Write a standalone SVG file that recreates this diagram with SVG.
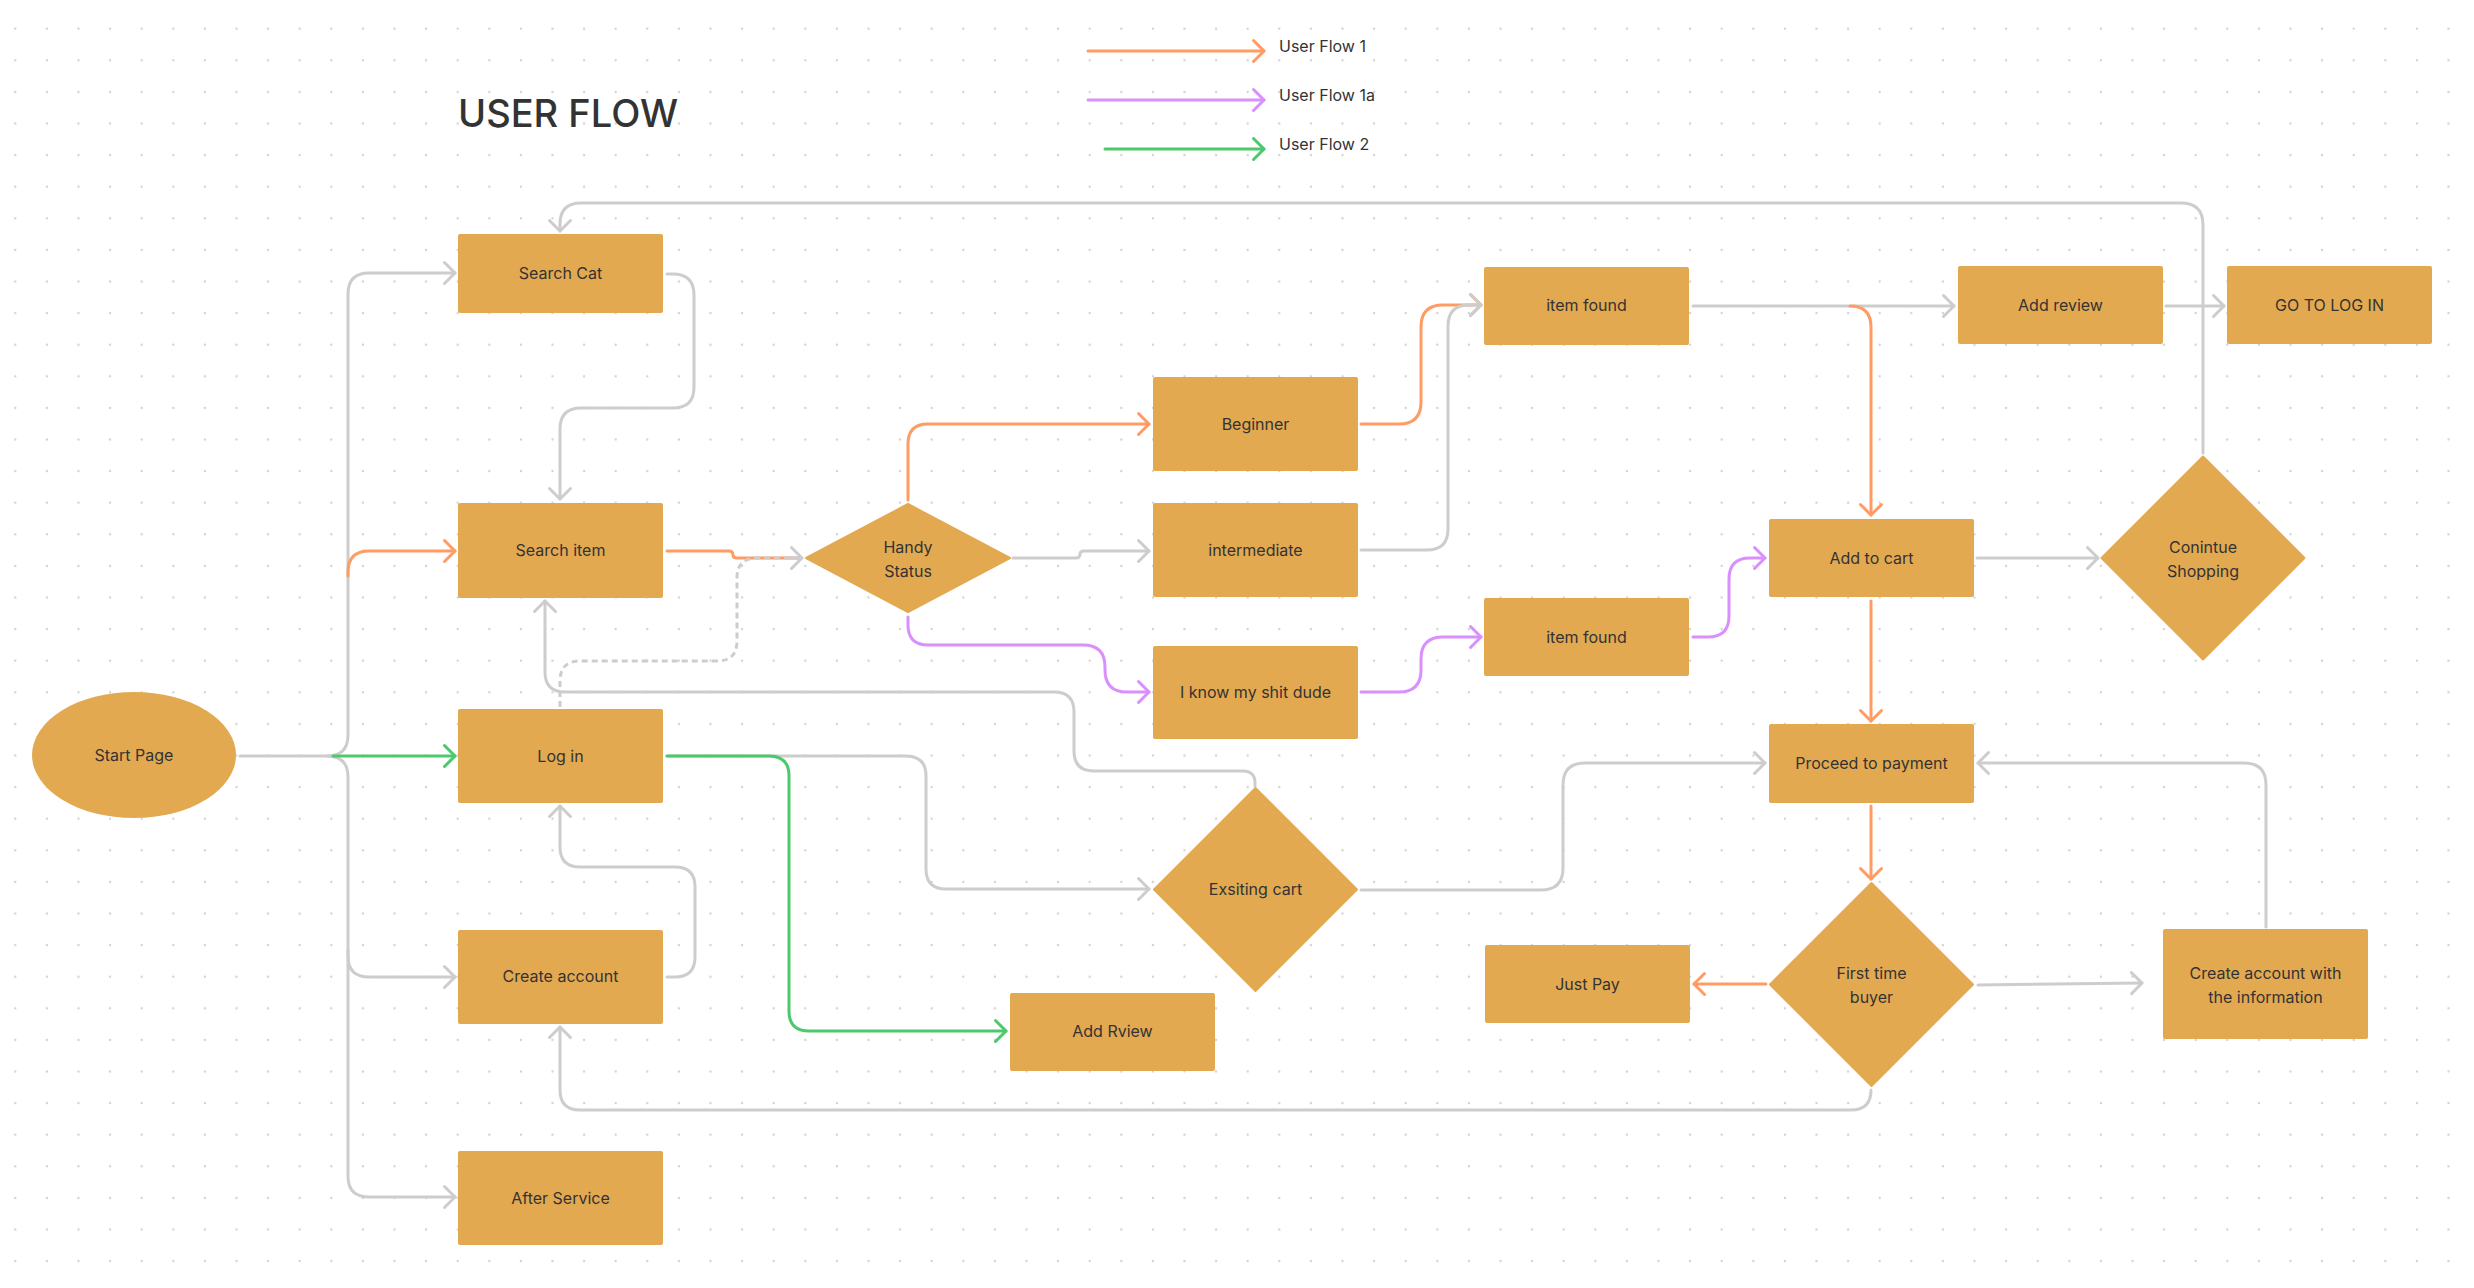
<svg xmlns="http://www.w3.org/2000/svg" width="2474" height="1288" viewBox="0 0 2474 1288">
<style>
.n{fill:#E3A951}
.t{font-family:Inter,"Liberation Sans",sans-serif;font-size:16px;fill:#333333;text-anchor:middle}
.c{fill:none;stroke-width:3;stroke-linecap:round;stroke-linejoin:round}
.g{stroke:#CDCDCD}
.o{stroke:#FF9B63}
.p{stroke:#DA8FFF}
.gr{stroke:#4CC96D}
.d{stroke-dasharray:6 4;stroke-linecap:butt}
.dm{stroke:#E3A951;stroke-width:2;stroke-linejoin:round}
</style>
<defs>
<pattern id="dots" x="-0.5" y="12.9" width="31.6" height="31.6" patternUnits="userSpaceOnUse"><circle cx="15.8" cy="15.8" r="1.2" fill="#D2D2D2"/></pattern>
<marker id="ag" markerUnits="userSpaceOnUse" markerWidth="30" markerHeight="30" viewBox="-15 -15 30 30" refX="0" refY="0" orient="auto"><path d="M-10.5,-10.5 L0,0 L-10.5,10.5" fill="none" stroke="#CDCDCD" stroke-width="3" stroke-linecap="round" stroke-linejoin="round"/></marker>
<marker id="ao" markerUnits="userSpaceOnUse" markerWidth="30" markerHeight="30" viewBox="-15 -15 30 30" refX="0" refY="0" orient="auto"><path d="M-10.5,-10.5 L0,0 L-10.5,10.5" fill="none" stroke="#FF9B63" stroke-width="3" stroke-linecap="round" stroke-linejoin="round"/></marker>
<marker id="ap" markerUnits="userSpaceOnUse" markerWidth="30" markerHeight="30" viewBox="-15 -15 30 30" refX="0" refY="0" orient="auto"><path d="M-10.5,-10.5 L0,0 L-10.5,10.5" fill="none" stroke="#DA8FFF" stroke-width="3" stroke-linecap="round" stroke-linejoin="round"/></marker>
<marker id="agr" markerUnits="userSpaceOnUse" markerWidth="30" markerHeight="30" viewBox="-15 -15 30 30" refX="0" refY="0" orient="auto"><path d="M-10.5,-10.5 L0,0 L-10.5,10.5" fill="none" stroke="#4CC96D" stroke-width="3" stroke-linecap="round" stroke-linejoin="round"/></marker>
</defs>
<rect width="2474" height="1288" fill="#FFFFFF"/>
<rect width="2474" height="1288" fill="url(#dots)"/>

<g id="title">
<text x="458" y="127" font-family="Inter,'Liberation Sans',sans-serif" font-size="38" font-weight="500" fill="#333333">USER FLOW</text>
</g>

<g id="legend">
<path class="c o" d="M1088,51 L1264,51" marker-end="url(#ao)"/>
<path class="c p" d="M1088,100 L1264,100" marker-end="url(#ap)"/>
<path class="c gr" d="M1105,149 L1264,149" marker-end="url(#agr)"/>
<text x="1279" y="51.5" font-family="Inter,'Liberation Sans',sans-serif" font-size="16" fill="#333333">User Flow 1</text>
<text x="1279" y="100.5" font-family="Inter,'Liberation Sans',sans-serif" font-size="16" fill="#333333">User Flow 1a</text>
<text x="1279" y="150" font-family="Inter,'Liberation Sans',sans-serif" font-size="16" fill="#333333">User Flow 2</text>
</g>

<g id="connectors">
<path class="c g" d="M240,756 L327,756 Q348,756 348,735 L348,294 Q348,273 369,273 L455,273" marker-end="url(#ag)"/>
<path class="c g" d="M327,756 Q348,756 348,777 L348,956 Q348,977 369,977 L455,977" marker-end="url(#ag)"/>
<path class="c g" d="M348,950 L348,1176 Q348,1197 369,1197 L455,1197" marker-end="url(#ag)"/>
<path class="c o" d="M348,576 L348,572 Q348,551 369,551 L455,551" marker-end="url(#ao)"/>
<path class="c gr" d="M333,756 L455,756" marker-end="url(#agr)"/>
<path class="c g" d="M667,274 L673,274 Q694,274 694,295 L694,387 Q694,408 673,408 L581,408 Q560,408 560,429 L560,499" marker-end="url(#ag)"/>
<path class="c o" d="M667,551 L729,551 Q733,551 733,555 Q733,558 737,558 L800,558"/>
<path class="c g d" d="M560,707 L560,681 Q560,661 580,661 L717,661 Q737,661 737,641 L737,578 Q737,558 757,558 L800,558"/>
<path class="c g" d="M790,558 L802,558" marker-end="url(#ag)"/>
<path class="c g" d="M1255,786 L1255,783 Q1255,771 1243,771 L1094,771 Q1074,771 1074,751 L1074,712 Q1074,692 1054,692 L565,692 Q545,692 545,672 L545,601" marker-end="url(#ag)"/>
<path class="c g" d="M667,756 L906,756 Q926,756 926,776 L926,869 Q926,889 946,889 L1149,889" marker-end="url(#ag)"/>
<path class="c gr" d="M667,756 L769,756 Q789,756 789,776 L789,1011 Q789,1031 809,1031 L1006,1031" marker-end="url(#agr)"/>
<path class="c g" d="M667,977 L675,977 Q695,977 695,957 L695,887 Q695,867 675,867 L580,867 Q560,867 560,847 L560,806" marker-end="url(#ag)"/>
<path class="c g" d="M1871,1090 Q1871,1110 1851,1110 L580,1110 Q560,1110 560,1090 L560,1027" marker-end="url(#ag)"/>
<path class="c o" d="M908,500 L908,444 Q908,424 928,424 L1149,424" marker-end="url(#ao)"/>
<path class="c g" d="M1013,558 L1076,558 Q1080,558 1080,554 Q1080,551 1084,551 L1149,551" marker-end="url(#ag)"/>
<path class="c p" d="M908,617 L908,625 Q908,645 928,645 L1083,645 Q1105,645 1105,667 L1105,670 Q1105,692 1127,692 L1149,692" marker-end="url(#ap)"/>
<path class="c o" d="M1361,424 L1399,424 Q1421,424 1421,402 L1421,327 Q1421,305 1443,305 L1481,305" marker-end="url(#ao)"/>
<path class="c g" d="M1361,550 L1427,550 Q1448,550 1448,529 L1448,326 Q1448,305 1469,305 L1481,305" marker-end="url(#ag)"/>
<path class="c p" d="M1361,692 L1399,692 Q1421,692 1421,670 L1421,659 Q1421,637 1443,637 L1481,637" marker-end="url(#ap)"/>
<path class="c g" d="M1693,306 L1954,306" marker-end="url(#ag)"/>
<path class="c o" d="M1850,306 Q1871,306 1871,327 L1871,515" marker-end="url(#ao)"/>
<path class="c p" d="M1693,637 L1708,637 Q1729,637 1729,616 L1729,579 Q1729,558 1750,558 L1765,558" marker-end="url(#ap)"/>
<path class="c g" d="M1977,558 L2098,558" marker-end="url(#ag)"/>
<path class="c g" d="M2166,306 L2224,306" marker-end="url(#ag)"/>
<path class="c g" d="M2203,453 L2203,225 Q2203,203 2181,203 L581,203 Q560,203 560,224 L560,231" marker-end="url(#ag)"/>
<path class="c o" d="M1871,601 L1871,721" marker-end="url(#ao)"/>
<path class="c g" d="M1361,890 L1541,890 Q1563,890 1563,868 L1563,785 Q1563,763 1585,763 L1765,763" marker-end="url(#ag)"/>
<path class="c g" d="M2266,927 L2266,785 Q2266,763 2244,763 L1978,763" marker-end="url(#ag)"/>
<path class="c o" d="M1871,806 L1871,879" marker-end="url(#ao)"/>
<path class="c o" d="M1766,984 L1694,984" marker-end="url(#ao)"/>
<path class="c g" d="M1978,985 L2142,983" marker-end="url(#ag)"/>
</g>

<g id="start-page"><ellipse class="n" cx="134" cy="755" rx="102" ry="63"/><text class="t" x="134" y="761">Start Page</text></g>
<g id="search-cat"><rect class="n" x="458" y="234" width="205" height="79" rx="2"/><text class="t" x="560.5" y="279">Search Cat</text></g>
<g id="search-item"><rect class="n" x="458" y="503" width="205" height="95" rx="2"/><text class="t" x="560.5" y="556">Search item</text></g>
<g id="log-in"><rect class="n" x="458" y="709" width="205" height="94" rx="2"/><text class="t" x="560.5" y="761.5">Log in</text></g>
<g id="create-account"><rect class="n" x="458" y="930" width="205" height="94" rx="2"/><text class="t" x="560.5" y="982">Create account</text></g>
<g id="after-service"><rect class="n" x="458" y="1151" width="205" height="94" rx="2"/><text class="t" x="560.5" y="1204">After Service</text></g>
<g id="handy-status"><path class="n dm" d="M806,558 L908,504 L1010,558 L908,612 Z"/><text class="t" x="908" y="552.5">Handy</text><text class="t" x="908" y="576.5">Status</text></g>
<g id="beginner"><rect class="n" x="1153" y="377" width="205" height="94" rx="2"/><text class="t" x="1255.5" y="430">Beginner</text></g>
<g id="intermediate"><rect class="n" x="1153" y="503" width="205" height="94" rx="2"/><text class="t" x="1255.5" y="556">intermediate</text></g>
<g id="i-know"><rect class="n" x="1153" y="646" width="205" height="93" rx="2"/><text class="t" x="1255.5" y="698">I know my shit dude</text></g>
<g id="item-found-1"><rect class="n" x="1484" y="267" width="205" height="78" rx="2"/><text class="t" x="1586.5" y="311">item found</text></g>
<g id="item-found-2"><rect class="n" x="1484" y="598" width="205" height="78" rx="2"/><text class="t" x="1586.5" y="643">item found</text></g>
<g id="add-review"><rect class="n" x="1958" y="266" width="205" height="78" rx="2"/><text class="t" x="2060.5" y="311">Add review</text></g>
<g id="go-to-log-in"><rect class="n" x="2227" y="266" width="205" height="78" rx="2"/><text class="t" x="2329.5" y="311">GO TO LOG IN</text></g>
<g id="add-to-cart"><rect class="n" x="1769" y="519" width="205" height="78" rx="2"/><text class="t" x="1871.5" y="564">Add to cart</text></g>
<g id="continue-shopping"><path class="n dm" d="M2101.5,558 L2203,456.5 L2304.5,558 L2203,659.5 Z"/><text class="t" x="2203" y="552.5">Conintue</text><text class="t" x="2203" y="576.5">Shopping</text></g>
<g id="exsiting-cart"><path class="n dm" d="M1154,889.5 L1255.5,788 L1357,889.5 L1255.5,991 Z"/><text class="t" x="1255.5" y="895">Exsiting cart</text></g>
<g id="add-rview"><rect class="n" x="1010" y="993" width="205" height="78" rx="2"/><text class="t" x="1112.5" y="1037">Add Rview</text></g>
<g id="proceed-to-payment"><rect class="n" x="1769" y="724" width="205" height="79" rx="2"/><text class="t" x="1871.5" y="769">Proceed to payment</text></g>
<g id="first-time-buyer"><path class="n dm" d="M1770,984.5 L1871.5,883 L1973,984.5 L1871.5,1086 Z"/><text class="t" x="1871.5" y="979">First time</text><text class="t" x="1871.5" y="1003">buyer</text></g>
<g id="just-pay"><rect class="n" x="1485" y="945" width="205" height="78" rx="2"/><text class="t" x="1587.5" y="990">Just Pay</text></g>
<g id="create-account-info"><rect class="n" x="2163" y="929" width="205" height="110" rx="2"/><text class="t" x="2265.5" y="979">Create account with</text><text class="t" x="2265.5" y="1003">the information</text></g>
</svg>
